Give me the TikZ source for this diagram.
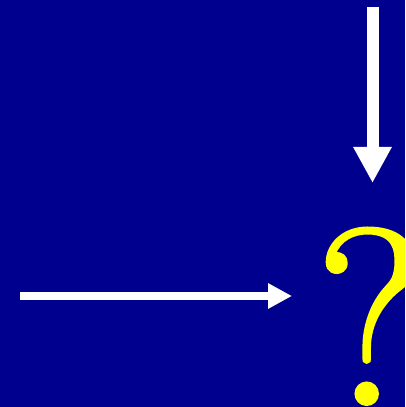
\documentclass[tikz,border=0pt]{standalone}
\usepackage{fontspec}
\newfontfamily\qfont[FakeBold=1.6]{Latin Modern Roman}
\usetikzlibrary{arrows.meta}
\definecolor{slideBlue}{HTML}{00008E}
\definecolor{markYellow}{HTML}{FFFF00}

\begin{document}
\begin{tikzpicture}[
    x=1pt, y=1pt,
    arrV/.style={-{Triangle[length=36pt, width=36pt]}, line width=12pt, white},
    arrH/.style={-{Triangle[length=24pt, width=24pt]}, line width=8pt, white},
    qmark/.style={inner sep=0pt, text=markYellow, font=\fontsize{250}{250}\qfont},
  ]
    % background
    \fill[slideBlue] (0,0) rectangle (405,407);
    \useasboundingbox (0,0) rectangle (405,407);
    \clip (0,0) rectangle (405,407);

    % question mark
    \node[qmark, anchor=base west] (q) at (316,3) {?};

    % arrows
    \coordinate (topStart) at (372.5,400);
    \coordinate (topEnd) at (372.5,224);
    \coordinate (leftStart) at (20,111);
    \coordinate (leftEnd) at (292,111);
    \draw[arrV] (topStart) -- (topEnd);
    \draw[arrH] (leftStart) -- (leftEnd);
  \end{tikzpicture}
\end{document}
